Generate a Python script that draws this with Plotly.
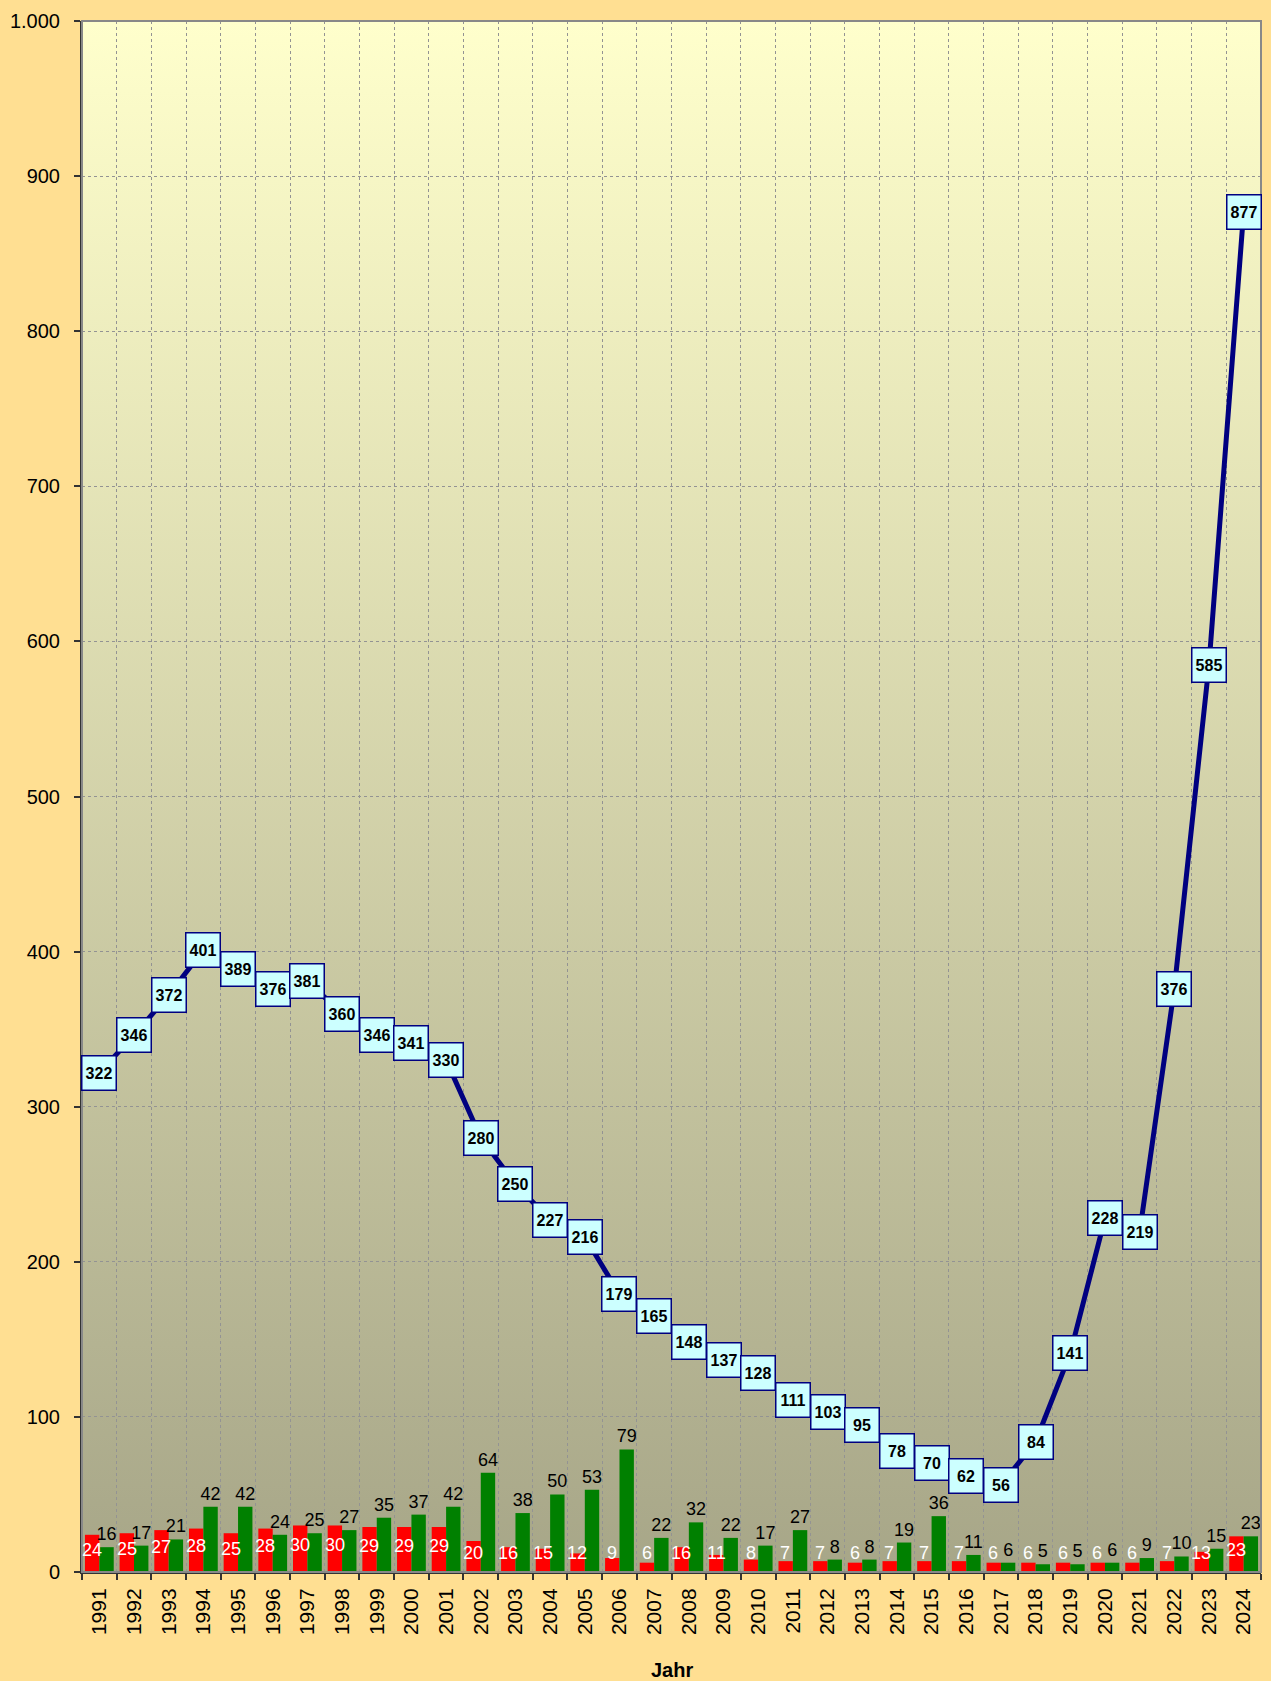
import base64
import plotly.graph_objects as go

years = [str(y) for y in range(1991, 2025)]
total = [322, 346, 372, 401, 389, 376, 381, 360, 346, 341, 330, 280, 250, 227, 216, 179, 165,
         148, 137, 128, 111, 103, 95, 78, 70, 62, 56, 84, 141, 228, 219, 376, 585, 877]
red_vals = [24, 25, 27, 28, 25, 28, 30, 30, 29, 29, 29, 20, 16, 15, 12, 9, 6,
            16, 11, 8, 7, 7, 6, 7, 7, 7, 6, 6, 6, 6, 6, 7, 13, 23]
green_vals = [16, 17, 21, 42, 42, 24, 25, 27, 35, 37, 42, 64, 38, 50, 53, 79, 22,
              32, 22, 17, 27, 8, 8, 19, 36, 11, 6, 5, 5, 6, 9, 10, 15, 23]

FONT = "Liberation Sans, Arial, sans-serif"
NAVY = "#000080"

svg = ('<svg xmlns="http://www.w3.org/2000/svg" viewBox="0 0 10 10" preserveAspectRatio="none">'
       '<defs><linearGradient id="g" x1="0" y1="0" x2="0" y2="1">'
       '<stop offset="0" stop-color="#FFFFCC"/><stop offset="1" stop-color="#A7A688"/>'
       '</linearGradient></defs><rect width="10" height="10" fill="url(#g)"/></svg>')
bg_src = "data:image/svg+xml;base64," + base64.b64encode(svg.encode()).decode()

fig = go.Figure()
fig.add_trace(go.Bar(x=years, y=red_vals, marker=dict(color="#FF0000", line=dict(width=0)),
                     name="rot", hoverinfo="x+y"))
fig.add_trace(go.Bar(x=years, y=green_vals, marker=dict(color="#008000", line=dict(width=0)),
                     text=[str(v) for v in green_vals], textposition="outside",
                     constraintext="none",
                     textfont=dict(family=FONT, size=18, color="#000000"),
                     cliponaxis=False, name="grün"))
fig.add_trace(go.Scatter(x=years, y=total, mode="lines", line=dict(color=NAVY, width=5),
                         name="gesamt"))

ann = []
# on a category axis, annotation x positions are category serial numbers
for i, v in enumerate(total):
    ann.append(dict(x=i, y=v, xref="x", yref="y", text="<b>%d</b>" % v, showarrow=False,
                    font=dict(family=FONT, size=16, color="#000000"),
                    bgcolor="#CCFFFF", bordercolor=NAVY, borderwidth=1.5, borderpad=1,
                    width=31, height=31, xanchor="center", yanchor="middle"))
for i, v in enumerate(red_vals):
    ann.append(dict(x=i, y=max(v / 2 + 2.5, 12), xref="x", yref="y", text=str(v),
                    showarrow=False, xshift=-7.5,
                    font=dict(family=FONT, size=18, color="#FFFFFF"),
                    xanchor="center", yanchor="middle"))
ann.append(dict(x=0.5, y=-0.0629, xref="paper", yref="paper", text="<b>Jahr</b>",
                showarrow=False, font=dict(family=FONT, size=20, color="#000000"),
                xanchor="center", yanchor="middle"))
ann.append(dict(x=-0.0641, y=-0.0674, xref="paper", yref="paper",
                text="Hinweis: Angaben des Jahres laut Polizeistatistik und Schuldnerstatistik",
                showarrow=False, font=dict(family=FONT, size=17, color="#000000"),
                xanchor="left", yanchor="top"))

fig.update_layout(
    width=1271, height=1681,
    margin=dict(l=76, r=10, t=15, b=109, pad=0),
    paper_bgcolor="#FFDF92",
    plot_bgcolor="rgba(0,0,0,0)",
    barmode="group", bargap=0.17, bargroupgap=0,
    showlegend=False,
    separators=",.",
    font=dict(family=FONT, size=20, color="#000000"),
    annotations=ann,
    images=[dict(source=bg_src, xref="paper", yref="paper", x=0, y=1, sizex=1, sizey=1,
                 xanchor="left", yanchor="top", sizing="stretch", layer="below")],
    shapes=[dict(type="rect", xref="paper", yref="paper", x0=0, y0=0, x1=1, y1=1,
                 line=dict(color="#888888", width=2), layer="above")],
)
fig.update_xaxes(type="category", tickson="boundaries", tickangle=-90,
                 range=[-0.5, len(years) - 0.5],
                 showgrid=True, gridcolor="#939393", griddash="dot", gridwidth=1,
                 showline=True, linecolor="#333333", linewidth=2,
                 ticks="outside", ticklen=6, tickcolor="#333333", tickwidth=1.5,
                 tickfont=dict(family=FONT, size=21, color="#000000"),
                 ticklabelstandoff=6)
fig.update_yaxes(range=[0, 1000], dtick=100, tickformat=",d",
                 showgrid=True, gridcolor="#939393", griddash="dot", gridwidth=1,
                 zeroline=False,
                 showline=True, linecolor="#333333", linewidth=2,
                 ticks="outside", ticklen=6, tickcolor="#333333", tickwidth=1.5,
                 tickfont=dict(family=FONT, size=20, color="#000000"),
                 ticklabelstandoff=10)

fig.write_html("out.html", config={"displayModeBar": False},
               post_script="document.body.style.margin='0';"
                           "document.body.style.padding='0';"
                           "document.body.style.overflow='hidden';")
